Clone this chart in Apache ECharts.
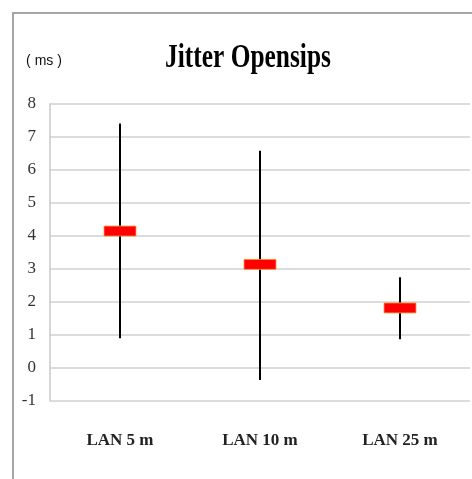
<!DOCTYPE html>
<html>
<head>
<meta charset="utf-8">
<script src="https://cdn.jsdelivr.net/npm/echarts@6/dist/echarts.min.js"></script>
<style>html,body{margin:0;padding:0;background:#fff;}#c{width:472px;height:479px;}</style>
</head>
<body>
<div id="c"></div>
<script>
var categories = ['LAN 5 m', 'LAN 10 m', 'LAN 25 m'];
var lowValues = [0.9, -0.36, 0.87];
var highValues = [7.41, 6.58, 2.75];
var meanValues = [4.15, 3.14, 1.82];
var yTicks = [-1, 0, 1, 2, 3, 4, 5, 6, 7, 8];

var chart = echarts.init(document.getElementById('c'));
var data = categories.map(function (c, i) { return [i, lowValues[i], highValues[i], meanValues[i]]; });

chart.setOption({
  animation: false,
  backgroundColor: '#fff',
  graphic: [
    { type: 'rect', shape: { x: 13, y: 13, width: 520, height: 520 }, style: { fill: 'none', stroke: '#a6a6a6', lineWidth: 2 }, silent: true },
    { type: 'text', x: 248, y: 58, scaleX: 0.77, style: { text: 'Jitter Opensips', font: 'bold 33px "Liberation Serif"', fill: '#000', align: 'center', verticalAlign: 'middle' } }
  ],
  grid: { left: 50, right: 2, top: 104, bottom: 78 },
  xAxis: {
    type: 'category',
    data: categories,
    axisLine: { show: false },
    axisTick: { show: false },
    axisLabel: { margin: 31, fontFamily: 'Liberation Serif', fontWeight: 'bold', fontSize: 17, color: '#222' }
  },
  yAxis: {
    type: 'value',
    min: yTicks[0], max: yTicks[yTicks.length - 1], interval: 1,
    name: '( ms )',
    nameLocation: 'end',
    nameGap: 36,
    nameTextStyle: { fontFamily: 'Liberation Sans', fontSize: 14, color: '#111', align: 'center', padding: [0, 12, 0, 0] },
    axisLine: { show: true, lineStyle: { color: '#c8c8c8', width: 1.5 } },
    axisTick: { show: false },
    axisLabel: { margin: 14, fontFamily: 'Liberation Serif', fontSize: 17, color: '#333' },
    splitLine: { lineStyle: { color: '#d0d0d0', width: 1.5 } }
  },
  series: [{
    type: 'custom',
    data: data,
    encode: { x: 0, y: [1, 2, 3] },
    renderItem: function (params, api) {
      var x = api.value(0);
      var lo = api.coord([x, api.value(1)]);
      var hi = api.coord([x, api.value(2)]);
      var mid = api.coord([x, api.value(3)]);
      return {
        type: 'group',
        children: [
          { type: 'line', shape: { x1: lo[0], y1: lo[1], x2: hi[0], y2: hi[1] }, style: { stroke: '#000', lineWidth: 2 } },
          { type: 'rect', shape: { x: mid[0] - 16, y: mid[1] - 5, width: 32, height: 10 }, style: { fill: '#ff0000', stroke: '#f2a040', lineWidth: 0.8 } }
        ]
      };
    }
  }]
});
</script>
</body>
</html>
